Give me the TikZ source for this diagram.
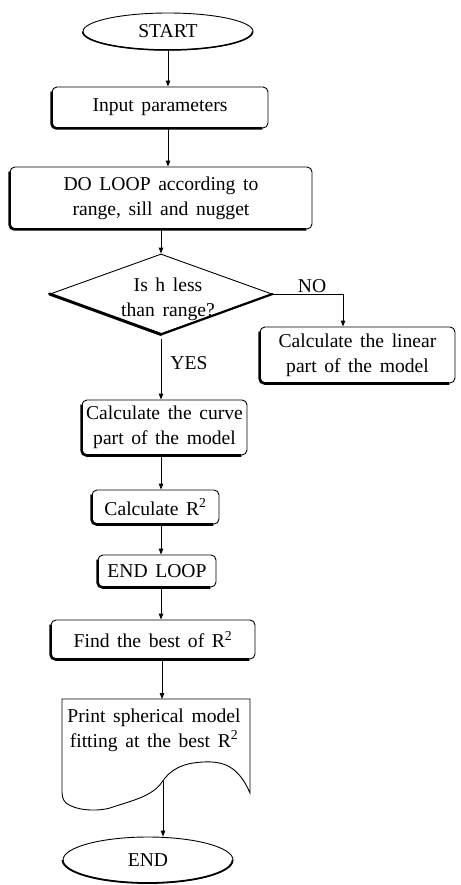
\documentclass[tikz,border=0pt]{standalone}
\usepackage{fontspec}
\setmainfont{Liberation Serif}
\usetikzlibrary{shapes.geometric,arrows.meta}
\newcommand\boxshadow[1]{%
  \draw[line width=2.6pt, rounded corners=5pt, shift={(-0.8pt,-0.6pt)}]
    ([yshift=-5pt]#1.north west) -- (#1.south west) -- ([xshift=-6pt]#1.south east);}
\begin{document}
\begin{tikzpicture}[x=1pt,y=-1pt,
  txt/.style={font=\fontsize{19.6}{25}\selectfont, align=center, inner sep=0pt, execute at begin node={\spaceskip=7.6pt plus 1pt minus 1pt\relax}},
  box/.style={txt, draw, line width=0.9pt, rounded corners=5pt},
  term/.style={txt, ellipse, draw, line width=0.9pt},
  dec/.style={diamond, draw, line width=0.9pt, inner sep=0pt, minimum width=222pt, minimum height=80pt, aspect=2.775},
  arr/.style={-{Triangle[length=6pt,width=4.5pt]}, line width=0.9pt}]
\useasboundingbox (0,0) rectangle (460,885);

% nodes
\node[term, minimum width=170pt, minimum height=37pt] (start) at (168,31.5) {START};
\node[box, minimum width=216pt, minimum height=41pt] (input) at (160,107.5) {Input parameters};
\node[box, minimum width=302pt, minimum height=62pt] (loop) at (161,198) {DO LOOP according to\\range, sill and nugget};
\node[dec] (dec) at (161,294) {};
\node[txt] (dectext) at (168,299) {Is h less\\than range?};
\node[box, minimum width=195pt, minimum height=56pt] (linear) at (357.5,355) {Calculate the linear\\part of the model};
\node[box, minimum width=165pt, minimum height=55pt] (curve) at (164.5,427.5) {Calculate the curve\\part of the model};
\node[box, minimum width=127pt, minimum height=34pt] (calc) at (155.5,507) {Calculate R\textsuperscript{2}};
\node[box, minimum width=118pt, minimum height=32pt] (endloop) at (157,571) {END LOOP};
\node[box, minimum width=204pt, minimum height=39pt] (find) at (153,639.5) {Find the best of R\textsuperscript{2}};
\node[term, minimum width=170pt, minimum height=46pt] (end) at (148,860) {END};

% document shape
\draw[line width=0.9pt] (62,699) -- (250,699) -- (250,793)
  .. controls (238,765) and (222,761) .. (203,762)
  .. controls (182,763) and (170,770) .. (162,782)
  .. controls (152,797) and (130,801) .. (110,808)
  .. controls (95,812) and (75,810) .. (66,803)
  .. controls (62,799) and (62,795) .. (62,790) -- cycle;
\node[txt] (print) at (154,730) {Print spherical model\\fitting at the best R\textsuperscript{2}};
\coordinate (docin) at (162,699);
\coordinate (docout) at (163,781);

% shadows
\boxshadow{input}
\boxshadow{loop}
\boxshadow{linear}
\boxshadow{curve}
\boxshadow{calc}
\boxshadow{endloop}
\boxshadow{find}
\draw[line width=3pt, line cap=round] (dec.west) -- (dec.south);
\draw[line width=2.2pt, line cap=round] (dec.south) -- (dec.east);
\draw[line width=1.5pt] (start.west) arc[start angle=180, end angle=360, x radius=85pt, y radius=18.5pt];
\draw[line width=1.8pt] (end.west) arc[start angle=180, end angle=360, x radius=85pt, y radius=23pt];

% connectors
\coordinate (col) at (161,0);
\coordinate (noturn) at (343,294);
\draw[arr] (start.south) -- (start.south |- input.north);
\draw[arr] (input.south -| start.south) -- (loop.north -| start.south);
\draw[arr] (loop.south -| dec.north) -- (dec.north);
\draw[arr] (dec.east) -- (noturn) -- (noturn |- linear.north);
\node[txt] (nolab) at (312,286) {NO};
\draw[arr] ([yshift=-5pt]dec.south) -- (dec.south |- curve.north);
\node[txt] (yeslab) at (189,363) {YES};
\draw[arr] (curve.south -| col) -- (calc.north -| col);
\draw[arr] (calc.south -| col) -- (endloop.north -| col);
\draw[arr] (endloop.south -| col) -- (find.north -| col);
\draw[arr] (find.south -| docin) -- (docin);
\draw[arr] (docout) -- (docout |- end.north);
\end{tikzpicture}
\end{document}
